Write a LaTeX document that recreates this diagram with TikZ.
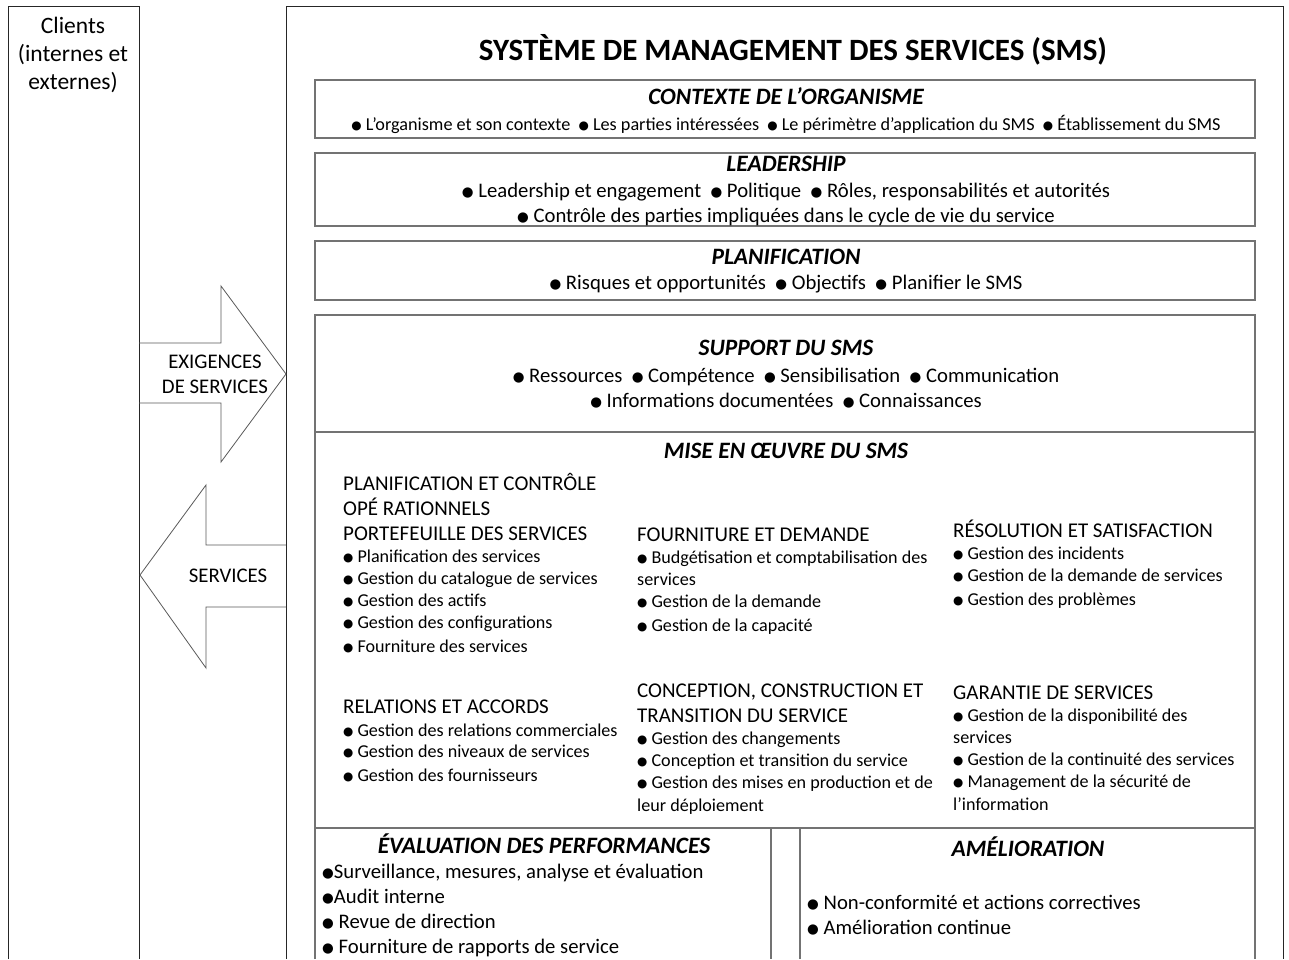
\documentclass[tikz,border=0pt]{standalone}
\usepackage{fontspec}
\usepackage{graphicx}
\setmainfont{Carlito}
\newfontfamily\symfont{DejaVu Sans}
\newcommand\bul{{\symfont\raisebox{0.04em}{\scalebox{0.65}{●}}}}
\tikzset{
  frame/.style={draw=black!85,line width=1pt},
  inbox/.style={draw=black!55,line width=1.4pt},
  arrowline/.style={draw=black!65,line width=.8pt},
  title/.style={font=\fontsize{31}{36}\bfseries\selectfont,inner sep=0},
  head/.style={font=\fontsize{23.5}{28}\bfseries\itshape\selectfont,inner sep=0},
  body/.style={font=\fontsize{20.7}{25}\selectfont,inner sep=0,align=center},
  smallbody/.style={font=\fontsize{18.2}{22}\selectfont,inner sep=0},
  colhead/.style={font=\fontsize{21}{24}\selectfont,anchor=base west,inner sep=0},
  item/.style={font=\fontsize{18.1}{21}\selectfont,anchor=base west,inner sep=0},
  bigitem/.style={font=\fontsize{20.7}{24}\selectfont,anchor=base west,inner sep=0},
}
\begin{document}
\begin{tikzpicture}[x=1pt,y=-1pt]
\useasboundingbox (0,0) rectangle (1289,959);
\path (8,6) coordinate (C1) (139,6) coordinate (C2)
  (286,6) coordinate (S1) (1283,6) coordinate (S2);
% outer frames
\draw[frame] (8,959)--(C1)--(C2)--(139,959);
\draw[frame] (286,959)--(S1)--(S2)--(1283,959);
% inner boxes
\draw[inbox] (315,80) rectangle (1255,138);
\draw[inbox] (315,153) rectangle (1255,226);
\draw[inbox] (315,241) rectangle (1255,300);
\draw[inbox] (315,959)--(315,315)--(1255,315)--(1255,959);
\draw[inbox] (315,432)--(1255,432) (315,828)--(1255,828)
  (771,828)--(771,959) (800,828)--(800,959);
% block arrows
\draw[arrowline] (139,343)--(221,343)--(221,286)--(286,374)--(221,462)--(221,403)--(139,403);
\draw[arrowline] (286,545)--(206,545)--(206,485)--(140,575)--(206,668)--(206,607)--(286,607);
\node[font=\fontsize{23.5}{28}\selectfont,align=center,inner sep=0] (clients) at (73,55) {Clients\\(internes et\\externes)};
\node[font=\fontsize{20.8}{25}\selectfont,align=center,inner sep=0] (exig) at (215,374) {EXIGENCES\\DE SERVICES};
\node[font=\fontsize{20.8}{25}\selectfont,inner sep=0] (serv) at (228,576) {SERVICES};
% SMS
\node[title] (sms) at (793,50) {SYSTÈME DE MANAGEMENT DES SERVICES (SMS)};
\node[head] (ctx) at (786,96) {CONTEXTE DE L’ORGANISME};
\node[smallbody] (ctxl) at (786,124) {\bul\ L’organisme et son contexte\ \ \bul\ Les parties intéressées\ \ \bul\ Le périmètre d’application du SMS\ \ \bul\ Établissement du SMS};
\node[head] (lead) at (786,164) {LEADERSHIP};
\node[body] (leadl) at (786,204) {\bul\ Leadership et engagement\ \ \bul\ Politique\ \ \bul\ Rôles, responsabilités et autorités\\\bul\ Contrôle des parties impliquées dans le cycle de vie du service};
\node[head] (plan) at (786,257) {PLANIFICATION};
\node[body] (planl) at (786,284) {\bul\ Risques et opportunités\ \ \bul\ Objectifs\ \ \bul\ Planifier le SMS};
\node[head] (supp) at (786,348) {SUPPORT DU SMS};
\node[body] (suppl) at (786,388) {\bul\ Ressources\ \ \bul\ Compétence\ \ \bul\ Sensibilisation\ \ \bul\ Communication\\\bul\ Informations documentées\ \ \bul\ Connaissances};
\node[head] (mise) at (786,451) {MISE EN ŒUVRE DU SMS};
% columns
\foreach \y/\t in {483/PLANIFICATION ET CONTRÔLE,508/OPÉ RATIONNELS,533/PORTEFEUILLE DES SERVICES,706/RELATIONS ET ACCORDS}
  \node[colhead] (ha-\y) at (343,\y+7) {\t};
\foreach \y/\t in {534/FOURNITURE ET DEMANDE,690/{CONCEPTION, CONSTRUCTION ET},715/TRANSITION DU SERVICE}
  \node[colhead] (hb-\y) at (637,\y+7) {\t};
\foreach \y/\t in {530/RÉSOLUTION ET SATISFACTION,692/GARANTIE DE SERVICES}
  \node[colhead] (hc-\y) at (953,\y+7) {\t};
\foreach \y/\t in {556/Planification des services,578/Gestion du catalogue de services,600/Gestion des actifs,622/Gestion des configurations,646/Fourniture des services,730/Gestion des relations commerciales,751/Gestion des niveaux de services,775/Gestion des fournisseurs}
  \node[item] (ia-\y) at (343,\y+6) {\bul\ \t};
\foreach \y/\t in {557/\bul\ Budgétisation et comptabilisation des,579/services,601/\bul\ Gestion de la demande,625/\bul\ Gestion de la capacité,738/\bul\ Gestion des changements,760/\bul\ Conception et transition du service,782/\bul\ Gestion des mises en production et de,805/leur déploiement}
  \node[item] (ib-\y) at (637,\y+6) {\t};
\foreach \y/\t in {553/\bul\ Gestion des incidents,575/\bul\ Gestion de la demande de services,599/\bul\ Gestion des problèmes,715/\bul\ Gestion de la disponibilité des,737/services,759/\bul\ Gestion de la continuité des services,781/\bul\ Management de la sécurité de,804/l’information}
  \node[item] (ic-\y) at (953,\y+6) {\t};
% bottom boxes
\node[head] (eval) at (544,844) {ÉVALUATION DES PERFORMANCES};
\foreach \y/\t in {871/{\bul Surveillance, mesures, analyse et évaluation},896/\bul Audit interne,921/\bul\ Revue de direction,946/\bul\ Fourniture de rapports de service}
  \node[bigitem] (ie-\y) at (322,\y+7) {\t};
\node[head] (amel) at (1028,847) {AMÉLIORATION};
\foreach \y/\t in {902/\bul\ Non-conformité et actions correctives,927/\bul\ Amélioration continue}
  \node[bigitem] (im-\y) at (807,\y+7) {\t};
\end{tikzpicture}
\end{document}
